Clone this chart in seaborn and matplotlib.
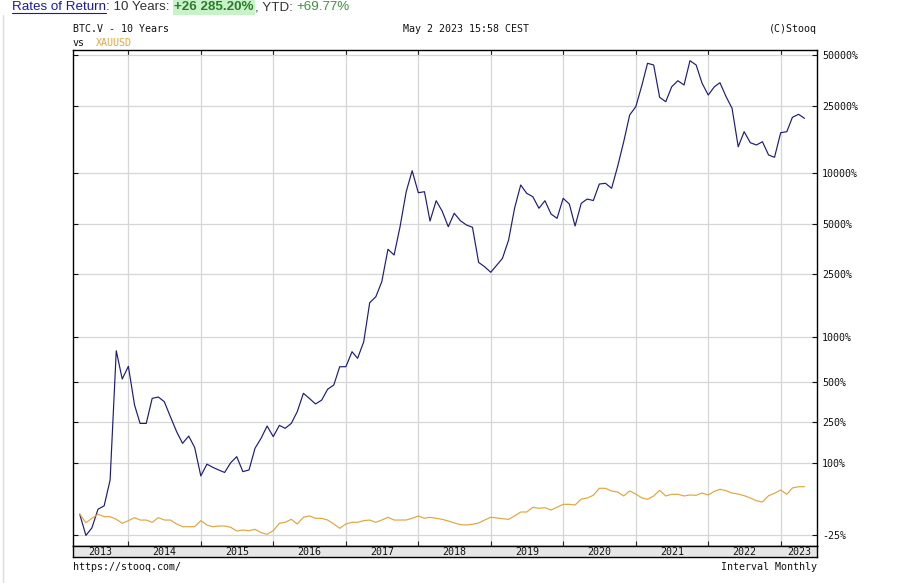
import matplotlib
matplotlib.use('Agg')
import matplotlib.pyplot as plt
import matplotlib.dates as mdates
from matplotlib.ticker import FixedLocator, NullLocator
from matplotlib.lines import Line2D
import seaborn as sns
import pandas as pd

# monthly rate of return since May 2013, in %
start_month = '2013-05-01'
btc_pct = [
    0, -25, -17, 7, 12, 59, 815, 524,                                   # 2013
    641, 339, 242, 242, 380, 389, 359, 274, 206, 161, 188, 147,          # 2014
    68, 97, 89, 82, 76, 101, 118, 78, 82, 144, 180, 230,                 # 2015
    186, 233, 220, 242, 301, 414, 380, 345, 369, 443, 475, 637,          # 2016
    637, 803, 726, 934, 1653, 1802, 2231, 3515, 3246, 4809, 7787, 10380, # 2017
    7680, 7787, 5200, 6880, 5970, 4809, 5790, 5225, 4920, 4770, 2927, 2756,  # 2018
    2548, 2822, 3100, 4000, 6200, 8540, 7620, 7270, 6200, 6880, 5730, 5400,  # 2019
    7110, 6576, 4855, 6640, 7040, 6900, 8650, 8740, 8160, 10960, 15420, 22190,  # 2020
    24850, 33360, 44800, 43780, 28230, 26590, 32590, 35360, 33360, 46410, 43780, 34140,  # 2021
    29120, 32590, 34420, 28460, 24310, 14400, 17680, 15210, 14750, 15420, 12870, 12470,  # 2022
    17440, 17680, 21500, 22400, 21210,                                   # 2023
]
gold_pct = [
    0, -10.9, -5.4, 0, -3.3, -3.3, -6.7, -11.6,
    -8.4, -4.6, -7.6, -7.6, -10.4, -4.6, -7.6, -7.6, -12.4, -15.6, -15.6, -15.6,
    -8.4, -13.6, -15.6, -14.8, -14.8, -16.3, -20.4, -19.3, -20.0, -18.5, -22.2, -23.8,
    -20.0, -11.6, -10.4, -6.7, -12.4, -4.1, -2.4, -5.4, -5.4, -7.6, -12.4, -17.4,
    -12.4, -10.4, -10.4, -8.4, -7.6, -10.4, -7.6, -4.1, -7.6, -7.6, -7.6, -5.4,
    -2.4, -5.4, -4.1, -5.4, -6.7, -8.8, -11.2, -13.2, -13.6, -12.8, -11.2, -7.6,
    -4.1, -5.0, -5.9, -6.7, -2.4, 3.0, 3.0, 9.8, 8.3, 9.2, 5.8, 9.8,
    14.3, 14.3, 13.3, 22.8, 24.5, 29.2, 42.0, 42.0, 36.9, 35.1, 28.0, 36.9,
    31.4, 24.5, 22.4, 28.0, 38.2, 28.0, 30.9, 30.9, 28.0, 29.7, 29.2, 33.2,
    29.7, 36.4, 40.1, 37.5, 33.2, 31.4, 28.5, 24.5, 20.0, 18.0, 28.5, 32.7,
    38.8, 30.9, 42.6, 45.1, 45.1,
]
y_tick_pct = [-25, 100, 250, 500, 1000, 2500, 5000, 10000, 25000, 50000]
years = list(range(2013, 2024))

months = pd.date_range(start_month, periods=len(btc_pct), freq='MS')
df = pd.DataFrame({'date': months, 'BTC.V': btc_pct, 'XAUUSD': gold_pct})
long = df.melt('date', var_name='ticker', value_name='pct')
long['ratio'] = 1 + long['pct'] / 100

sns.set_style('white')
plt.rcParams['font.family'] = ['DejaVu Sans Mono']

W, H = 921, 583
fig = plt.figure(figsize=(W / 100, H / 100), dpi=100)
ax = fig.add_axes([73 / W, 1 - 546 / H, 744 / W, 496 / H])

sns.lineplot(data=long, x='date', y='ratio', hue='ticker',
             palette={'BTC.V': '#1c1c78', 'XAUUSD': '#e0a63c'},
             linewidth=0.85, legend=False, ax=ax)

x0, x1 = pd.Timestamp('2013-03-28'), pd.Timestamp('2023-07-03')
ax.set_yscale('log')
ax.set_ylim(0.65, 537.6)
ax.set_xlim(x0, x1)
ax.set_xlabel('')
ax.set_ylabel('')

ax.yaxis.set_major_locator(FixedLocator([1 + p / 100 for p in y_tick_pct]))
ax.yaxis.set_minor_locator(NullLocator())
ax.set_yticklabels([f'{p}%' for p in y_tick_pct])
ax.set_xticks([pd.Timestamp(f'{y}-01-01') for y in years[1:]])
ax.xaxis.set_minor_locator(NullLocator())

ax.grid(True, color='#d6d6d6', linewidth=0.9)
ax.set_axisbelow(True)
ax.tick_params(axis='y', left=True, right=True, labelleft=False, labelright=True,
               direction='in', length=3.5, width=0.8, pad=3.5, labelsize=7.2,
               colors='#111111')
ax.tick_params(axis='x', bottom=True, top=True, labelbottom=False,
               direction='in', length=3.5, width=0.8)
for s in ax.spines.values():
    s.set_color('black')
    s.set_linewidth(1.0)

# year strip under the plot
sax = fig.add_axes([73 / W, 1 - 557 / H, 744 / W, 11 / H])
sax.set_facecolor('#e6e6e6')
sax.set_xlim(mdates.date2num(x0), mdates.date2num(x1))
sax.set_ylim(0, 1)
sax.set_xticks([])
sax.set_yticks([])
for s in sax.spines.values():
    s.set_color('black')
    s.set_linewidth(1.0)
for y in years:
    lo = max(mdates.date2num(pd.Timestamp(f'{y}-01-01')), mdates.date2num(x0))
    hi = min(mdates.date2num(pd.Timestamp(f'{y + 1}-01-01')), mdates.date2num(x1))
    sax.text((lo + hi) / 2, 0.45, str(y), ha='center', va='center',
             fontsize=7.2, color='#111111')

# header
sans = ['Liberation Sans', 'DejaVu Sans']
fs = 9.6
t1 = fig.text(12 / W, 1 - 7 / H, 'Rates of Return', family=sans, fontsize=fs,
              color='#1a1aa6', va='center')
t2 = fig.text(0, 0, ': 10 Years: ', family=sans, fontsize=fs, color='#333333')
fig.canvas.draw()
r = fig.canvas.get_renderer()
bb = t1.get_window_extent(r)
t2.set_position((bb.x1 / W, 1 - 7 / H))
t2.set_va('center')
fig.canvas.draw()
bb2 = t2.get_window_extent(r)
t3 = fig.text(bb2.x1 / W + 1 / W, 1 - 7 / H, '+26 285.20%', family=sans, fontsize=fs,
              weight='bold', color='#2d7a2d', va='center',
              bbox=dict(facecolor='#c8f2c8', edgecolor='none', pad=1.2))
fig.canvas.draw()
bb3 = t3.get_window_extent(r)
t4 = fig.text(bb3.x1 / W + 1 / W, 1 - 7 / H, ', YTD: ', family=sans, fontsize=fs,
              color='#333333', va='center')
fig.canvas.draw()
bb4 = t4.get_window_extent(r)
fig.text(bb4.x1 / W, 1 - 7 / H, '+69.77%', family=sans, fontsize=fs,
         color='#3f8f3f', va='center')
fig.add_artist(Line2D([bb.x0 / W, bb.x1 / W], [1 - 12.5 / H, 1 - 12.5 / H],
                      color='#1a1aa6', linewidth=0.8))

mono = dict(fontsize=7.2, va='center', color='#111111')
fig.text(73 / W, 1 - 29 / H, 'BTC.V - 10 Years', **mono)
fig.text(73 / W, 1 - 42.5 / H, 'vs', **mono)
fig.text(96 / W, 1 - 42.5 / H, 'XAUUSD', fontsize=7.2, va='center', color='#e0a63c')
fig.text(403 / W, 1 - 29 / H, 'May 2 2023 15:58 CEST', **mono)
fig.text(817 / W, 1 - 29 / H, '(C)Stooq', ha='right', **mono)
fig.text(73 / W, 1 - 566.5 / H, 'https://stooq.com/', **mono)
fig.text(817 / W, 1 - 566.5 / H, 'Interval Monthly', ha='right', **mono)

# faint frame on the left edge
fig.add_artist(Line2D([3 / W, 3 / W], [0, 1 - 15 / H], color='#dcdcdc', linewidth=1.0))

fig.savefig('out.png', dpi=100)
